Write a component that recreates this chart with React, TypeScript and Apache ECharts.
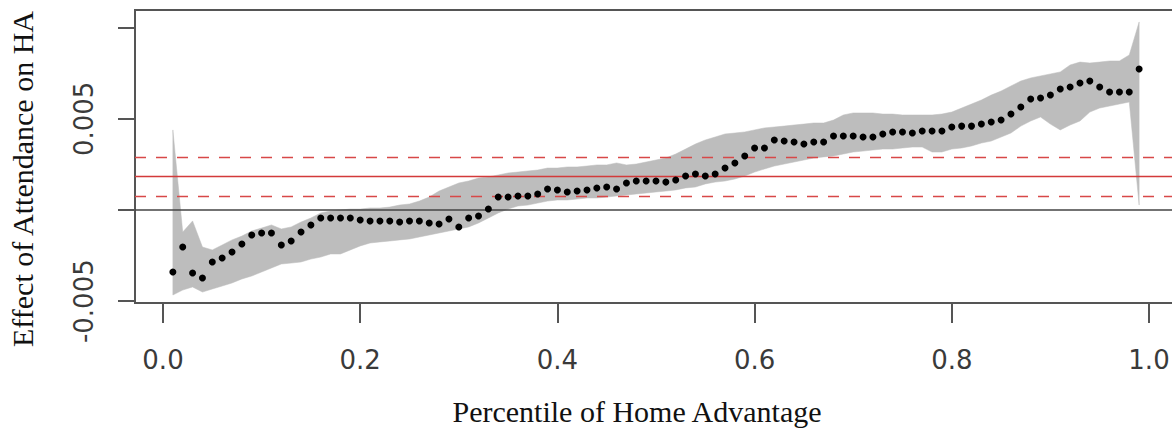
import React, { useEffect, useRef } from "react";
import * as echarts from "echarts";

// Percentile of home advantage (x positions of the estimates)
const percentiles = [
  0.01, 0.02, 0.03, 0.04, 0.05, 0.06, 0.07, 0.08, 0.09, 0.1,
  0.11, 0.12, 0.13, 0.14, 0.15, 0.16, 0.17, 0.18, 0.19, 0.2,
  0.21, 0.22, 0.23, 0.24, 0.25, 0.26, 0.27, 0.28, 0.29, 0.3,
  0.31, 0.32, 0.33, 0.34, 0.35, 0.36, 0.37, 0.38, 0.39, 0.4,
  0.41, 0.42, 0.43, 0.44, 0.45, 0.46, 0.47, 0.48, 0.49, 0.5,
  0.51, 0.52, 0.53, 0.54, 0.55, 0.56, 0.57, 0.58, 0.59, 0.6,
  0.61, 0.62, 0.63, 0.64, 0.65, 0.66, 0.67, 0.68, 0.69, 0.7,
  0.71, 0.72, 0.73, 0.74, 0.75, 0.76, 0.77, 0.78, 0.79, 0.8,
  0.81, 0.82, 0.83, 0.84, 0.85, 0.86, 0.87, 0.88, 0.89, 0.9,
  0.91, 0.92, 0.93, 0.94, 0.95, 0.96, 0.97, 0.98, 0.99,
];

// Point estimates of the effect of attendance on HA
const effect = [
  -0.0034, -0.00203, -0.00345, -0.00373, -0.00285, -0.00263, -0.0023, -0.00186, -0.00137, -0.00126,
  -0.00126, -0.00192, -0.0017, -0.00121, -0.00082, -0.00044, -0.00044, -0.00044, -0.00044, -0.00055,
  -0.0006, -0.0006, -0.0006, -0.00066, -0.0006, -0.0006, -0.00071, -0.00077, -0.00049, -0.00093,
  -0.00044, -0.00033, 0.00005, 0.00071, 0.00071, 0.00077, 0.00077, 0.00088, 0.00115, 0.0011,
  0.00099, 0.00104, 0.0011, 0.00121, 0.00126, 0.00115, 0.00148, 0.00159, 0.00159, 0.00159,
  0.00153, 0.00164, 0.00186, 0.00197, 0.00186, 0.00197, 0.0023, 0.00258, 0.00296, 0.0034,
  0.0034, 0.00384, 0.00378, 0.00373, 0.00362, 0.00373, 0.00373, 0.00406, 0.00406, 0.00406,
  0.004, 0.004, 0.00417, 0.00428, 0.00428, 0.00422, 0.00433, 0.00433, 0.00433, 0.00455,
  0.0046, 0.0046, 0.00471, 0.00482, 0.00493, 0.00526, 0.00565, 0.00609, 0.00614, 0.0063,
  0.00663, 0.00674, 0.00696, 0.00707, 0.00674, 0.00647, 0.00647, 0.00647, 0.00773,
];

// Upper confidence bound
const upper = [
  0.00439, -0.00121, -0.0006, -0.00203, -0.00219, -0.00192, -0.00164, -0.00143, -0.00115, -0.00099,
  -0.00082, -0.00104, -0.00093, -0.00066, -0.00044, -0.00016, -0.00005, 0.0, 0.00005, 0.00005,
  0.00011, 0.00011, 0.00016, 0.00027, 0.00033, 0.00049, 0.00071, 0.00104, 0.00126, 0.00148,
  0.00159, 0.00175, 0.00181, 0.00192, 0.00203, 0.00208, 0.00214, 0.00219, 0.0023, 0.0023,
  0.00236, 0.00236, 0.00241, 0.00247, 0.00247, 0.00258, 0.00247, 0.00252, 0.00263, 0.00274,
  0.00285, 0.00307, 0.00334, 0.00362, 0.00384, 0.004, 0.00417, 0.00422, 0.00428, 0.00439,
  0.0045, 0.00455, 0.0046, 0.00466, 0.00471, 0.00477, 0.00477, 0.00493, 0.00521, 0.00532,
  0.00532, 0.00532, 0.00526, 0.00526, 0.00521, 0.00521, 0.00521, 0.00521, 0.00526, 0.00537,
  0.00559, 0.00581, 0.00603, 0.0063, 0.00652, 0.0068, 0.00707, 0.00724, 0.00735, 0.00746,
  0.00757, 0.00795, 0.00811, 0.00806, 0.00811, 0.00817, 0.00817, 0.0085, 0.01031,
];

// Lower confidence bound
const lower = [
  -0.00466, -0.00439, -0.00422, -0.0045, -0.00433, -0.00417, -0.004, -0.00378, -0.00362, -0.0034,
  -0.00318, -0.00296, -0.00291, -0.00285, -0.00269, -0.00258, -0.00241, -0.00241, -0.00219, -0.00197,
  -0.00181, -0.00175, -0.0017, -0.00164, -0.00159, -0.00148, -0.00137, -0.00126, -0.00115, -0.00104,
  -0.00093, -0.00071, -0.00044, -0.00016, 0.00005, 0.00022, 0.00027, 0.00038, 0.00049, 0.00055,
  0.00055, 0.0006, 0.00066, 0.00066, 0.00071, 0.00077, 0.00082, 0.00088, 0.00093, 0.00099,
  0.00104, 0.0011, 0.00121, 0.00126, 0.00143, 0.00153, 0.00159, 0.0017, 0.00186, 0.00208,
  0.00225, 0.00241, 0.00252, 0.00263, 0.00274, 0.00285, 0.00291, 0.00296, 0.00307, 0.00318,
  0.00323, 0.00329, 0.00334, 0.00334, 0.0034, 0.00345, 0.00345, 0.00318, 0.00318, 0.00334,
  0.0034, 0.00351, 0.00367, 0.00378, 0.004, 0.00422, 0.0046, 0.00488, 0.0051, 0.00471,
  0.00439, 0.00466, 0.00488, 0.00537, 0.00559, 0.0057, 0.00581, 0.00592, 0.00027,
];

// Horizontal reference lines
const zeroLine = 0;
const meanEffect = 0.00183;
const meanLow = 0.00077;
const meanHigh = 0.00289;

// Tick values and labels
const xTicks = [0, 0.2, 0.4, 0.6, 0.8, 1.0];
const yTicks = [-0.005, 0, 0.005, 0.01];
const yLabels = [-0.005, 0.005];

export default function App() {
  const ref = useRef<HTMLDivElement>(null);

  useEffect(() => {
    const chart = echarts.init(ref.current!, null, { renderer: "svg" });
    const tickFont = { fontFamily: "DejaVu Sans", fontSize: 26, color: "#3a3a3a" };
    const option: any = {
      animation: false,
      backgroundColor: "#ffffff",
      grid: {
        left: 135,
        top: 10,
        width: 1042,
        height: 293,
        show: true,
        borderColor: "#555555",
        borderWidth: 2,
        backgroundColor: "transparent",
      },
      xAxis: {
        type: "value",
        min: -0.0284,
        max: 1.0284,
        axisLine: { show: false, onZero: false },
        splitLine: { show: false },
        axisTick: {
          show: true,
          length: 20,
          customValues: xTicks,
          lineStyle: { color: "#555555", width: 2 },
        },
        axisLabel: {
          ...tickFont,
          margin: 44,
          customValues: xTicks,
          formatter: (v: number) => v.toFixed(1),
        },
      },
      yAxis: {
        type: "value",
        min: -0.005099,
        max: 0.010965,
        axisLine: { show: false, onZero: false },
        splitLine: { show: false },
        axisTick: {
          show: true,
          length: 17,
          customValues: yTicks,
          lineStyle: { color: "#555555", width: 2 },
        },
        axisLabel: {
          ...tickFont,
          rotate: 90,
          margin: 38,
          customValues: yLabels,
          formatter: (v: number) => String(v),
        },
      },
      graphic: [
        {
          type: "text",
          x: 637,
          y: 411,
          style: {
            text: "Percentile of Home Advantage",
            fontFamily: "Liberation Serif",
            fontSize: 30,
            fill: "#111111",
            align: "center",
            verticalAlign: "middle",
          },
        },
        {
          type: "text",
          x: 22,
          y: 179,
          rotation: Math.PI / 2,
          style: {
            text: "Effect of Attendance on HA",
            fontFamily: "Liberation Serif",
            fontSize: 30,
            fill: "#111111",
            align: "center",
            verticalAlign: "middle",
          },
        },
      ],
      series: [
        {
          type: "custom",
          coordinateSystem: "cartesian2d",
          silent: true,
          z: 1,
          data: [[percentiles[0], effect[0]]],
          encode: { x: 0, y: 1 },
          renderItem: (_params: any, api: any) => {
            const pts: number[][] = [];
            for (let i = 0; i < percentiles.length; i++) {
              pts.push(api.coord([percentiles[i], upper[i]]));
            }
            for (let i = percentiles.length - 1; i >= 0; i--) {
              pts.push(api.coord([percentiles[i], lower[i]]));
            }
            return {
              type: "polygon",
              shape: { points: pts },
              style: { fill: "#bdbdbd", stroke: "#bdbdbd", lineWidth: 0.5 },
            };
          },
        },
        {
          type: "scatter",
          z: 10,
          symbol: "circle",
          symbolSize: 7,
          itemStyle: { color: "#000000", opacity: 1 },
          data: percentiles.map((p, i) => [p, effect[i]]),
          markLine: {
            silent: true,
            precision: 6,
            symbol: ["none", "none"],
            label: { show: false },
            data: [
              { yAxis: zeroLine, lineStyle: { color: "#444444", width: 1.6, type: "solid" } },
              { yAxis: meanEffect, lineStyle: { color: "#d33a3a", width: 1.4, type: "solid" } },
              { yAxis: meanHigh, lineStyle: { color: "#d84848", width: 1.4, type: [11, 10] } },
              { yAxis: meanLow, lineStyle: { color: "#d84848", width: 1.4, type: [11, 10] } },
            ],
          },
        },
      ],
    };
    chart.setOption(option);
    return () => chart.dispose();
  }, []);

  return (
    <div
      style={{
        position: "fixed",
        left: 0,
        top: 0,
        width: 1172,
        height: 431,
        overflow: "hidden",
        background: "#ffffff",
      }}
    >
      <div ref={ref} style={{ width: 1200, height: 431 }} />
    </div>
  );
}
